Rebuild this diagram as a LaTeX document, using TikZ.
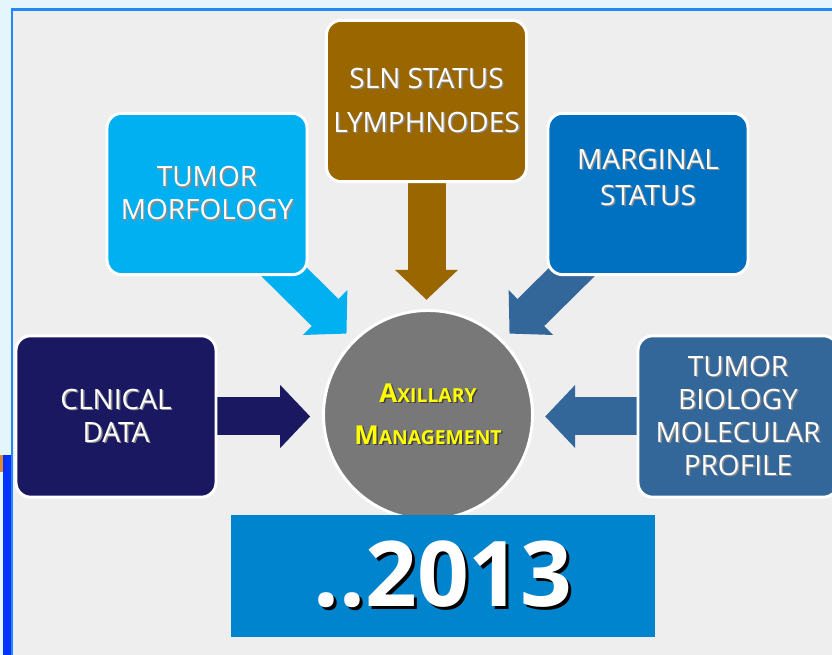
\documentclass[tikz,border=0pt]{standalone}
\usepackage{fontspec}
\setmainfont{Open Sans}
\usetikzlibrary{positioning, calc, arrows.meta, shapes.geometric}

\definecolor{outerbg}{HTML}{E5F5FC}
\definecolor{panelbg}{HTML}{EEEEEE}
\definecolor{panelline}{HTML}{2288F8}
\definecolor{stripblue}{HTML}{0033FF}
\definecolor{striporange}{HTML}{E08A30}
\definecolor{clinicalc}{HTML}{1B1862}
\definecolor{morfc}{HTML}{00B0F0}
\definecolor{slnc}{HTML}{996600}
\definecolor{marginc}{HTML}{0070C0}
\definecolor{biologyc}{HTML}{336699}
\definecolor{hubc}{HTML}{787878}
\definecolor{yearc}{HTML}{0084CE}
\definecolor{axyellow}{HTML}{FFFF00}

\newcommand{\shadowed}[3]{\makebox[0pt][l]{\kern#1\raisebox{-#1}{\textcolor{#2}{#3}}}#3}
\newcommand{\lbl}[1]{\shadowed{1.1pt}{black!45}{#1}}

\pgfdeclarelayer{slide}
\pgfdeclarelayer{arrowlayer}
\pgfsetlayers{slide,arrowlayer,main}

\tikzset{
  factorbox/.style={fill=#1, draw=white, line width=2.2pt, rounded corners=11pt,
    minimum width=150pt, minimum height=121pt, inner sep=0pt, outer sep=0pt},
  factortext/.style={text=white, align=center, font=\fontsize{21}{24.75}\selectfont},
  fatarrow/.style={color=#1, line width=28.5pt,
    -{Triangle[length=22.5pt,width=46pt]}}
}

\begin{document}
\begin{tikzpicture}[x=0.75pt, y=-0.75pt]
  \useasboundingbox (0,0) rectangle (832,655);

  % slide background
  \begin{pgfonlayer}{slide}
    \fill[outerbg] (0,0) rectangle (832,655);
    \fill[panelbg] (12,9) rectangle (832,655);
    \draw[panelline, line width=2.2pt] (12,655) -- (12,9.5) -- (832,9.5);
    \fill[stripblue] (3,455) rectangle (10.5,655);
    \fill[striporange] (0,455) rectangle (3,472);
  \end{pgfonlayer}

  % the five factors
  \node[factorbox=clinicalc] (clin) at (116,416.5) {};
  \node[factorbox=morfc] (morf) at (207,194) {};
  \node[factorbox=slnc] (sln) at (426.5,101) {};
  \node[factorbox=marginc] (marg) at (648,194) {};
  \node[factorbox=biologyc] (bio) at (738,416.5) {};

  \node[factortext] (clintext) at (clin) {\lbl{CLNICAL}\\\lbl{DATA}};
  \node[factortext] (morftext) at (morf) {\lbl{TUMOR}\\\lbl{MORFOLOGY}};
  \node[factortext, font=\fontsize{21}{33}\selectfont] (slntext) at (sln)
    {\lbl{SLN STATUS}\\\lbl{LYMPHNODES}};
  \node[factortext, font=\fontsize{21}{27}\selectfont] (margtext) at ($(marg)+(0,-16)$)
    {\lbl{MARGINAL}\\\lbl{STATUS}};
  \node[factortext] (biotext) at (bio)
    {\lbl{TUMOR}\\\lbl{BIOLOGY}\\\lbl{MOLECULAR}\\\lbl{PROFILE}};

  % centre
  \node[circle, fill=hubc, draw=white, line width=2.2pt, minimum size=156.75pt,
    inner sep=0pt, outer sep=0pt, text=axyellow, align=center,
    font=\bfseries\fontsize{14.5}{31.5}\selectfont] (hub) at (428,415)
    {\shadowed{1.1pt}{black!75}{{\fontsize{19.5}{31.5}\selectfont A}XILLARY}\\
     \shadowed{1.1pt}{black!75}{{\fontsize{19.5}{31.5}\selectfont M}ANAGEMENT}};

  \node[fill=yearc, minimum width=318pt, minimum height=91.5pt, text=white,
    font=\bfseries\fontsize{68}{80}\selectfont] (year) at (443,576)
    {\shadowed{2.2pt}{black}{..2013}};

  % block arrows into the centre
  \coordinate (morfout) at (274,262);
  \coordinate (margout) at (582,262);
  \begin{pgfonlayer}{arrowlayer}
    \draw[fatarrow=clinicalc, shorten >=10pt] (clin.east) -- (clin.east -| hub.west);
    \draw[fatarrow=morfc, shorten >=8pt] (morfout) -- (hub.135);
    \draw[fatarrow=slnc, shorten >=8pt] (sln.south) -- (sln.south |- hub.north);
    \draw[fatarrow=biologyc, shorten >=8pt] (margout) -- (hub.45);
    \draw[fatarrow=biologyc, shorten >=9.5pt] (bio.west) -- (bio.west -| hub.east);
  \end{pgfonlayer}
\end{tikzpicture}
\end{document}
